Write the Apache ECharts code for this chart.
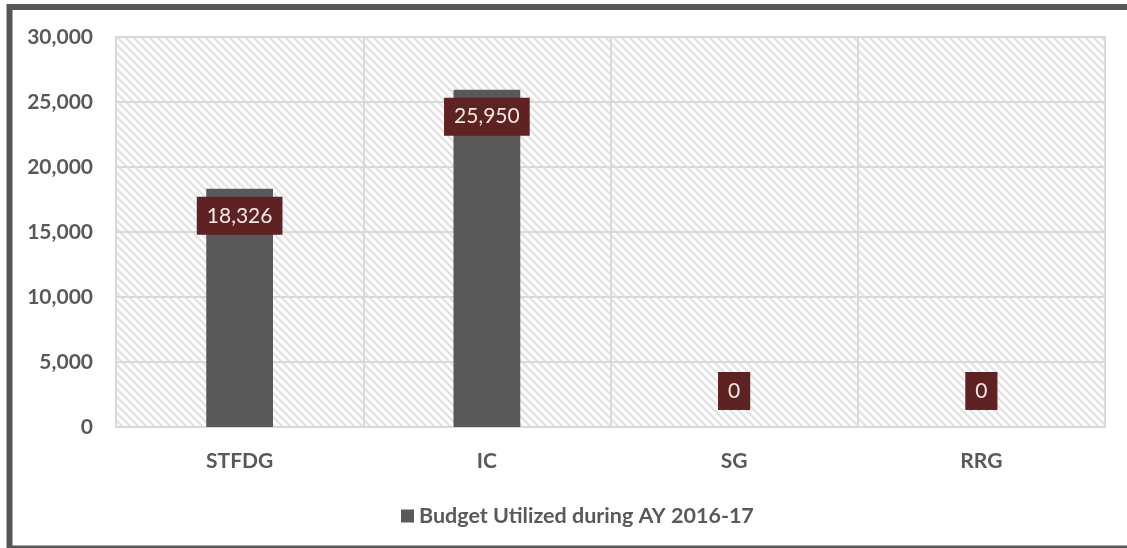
<!DOCTYPE html>
<html>
<head>
<meta charset="utf-8">
<script src="https://cdn.jsdelivr.net/npm/echarts@6/dist/echarts.min.js"></script>
<style>
  html, body { margin: 0; padding: 0; background: #fff; overflow: hidden; }
  #chart { width: 1127px; height: 548px; }
</style>
</head>
<body>
<div id="chart"></div>
<script>
const categories = ['STFDG', 'IC', 'SG', 'RRG'];
const budgetUtilized = [18326, 25950, 0, 0];
const seriesName = 'Budget Utilized during AY 2016-17';

// diagonal hatch for the plot background
function hatch() {
    const s = 8;
    const c = document.createElement('canvas');
    c.width = s; c.height = s;
    const ctx = c.getContext('2d');
    ctx.fillStyle = '#ffffff';
    ctx.fillRect(0, 0, s, s);
    ctx.strokeStyle = '#e3e3e3';
    ctx.lineWidth = 2.5;
    ctx.beginPath();
    ctx.moveTo(-1, -1); ctx.lineTo(s + 1, s + 1);
    ctx.moveTo(-1, s - 1); ctx.lineTo(1, s + 1);
    ctx.moveTo(s - 1, -1); ctx.lineTo(s + 1, 1);
    ctx.stroke();
    return c;
}

const labelBase = {
    show: true,
    color: '#f3ebe3',
    backgroundColor: '#5e2222',
    fontFamily: 'Lato',
    fontSize: 21,
    lineHeight: 20,
    padding: [9, 10],
    formatter: p => p.value.toLocaleString('en-US')
};

const chart = echarts.init(document.getElementById('chart'));
chart.setOption({
    animation: false,
    textStyle: { fontFamily: 'Lato' },
    graphic: [{
        type: 'rect',
        shape: { x: 9.5, y: 7, width: 1200, height: 541.5 },
        style: { fill: 'none', stroke: '#575757', lineWidth: 6 },
        z: 100
    }],
    grid: {
        left: 116, right: 22, top: 37, bottom: 121,
        show: true,
        backgroundColor: { image: hatch(), repeat: 'repeat' },
        borderColor: '#d9d9d9',
        borderWidth: 2
    },
    legend: {
        left: 396, top: 500,
        icon: 'rect',
        itemWidth: 13, itemHeight: 13,
        itemGap: 5,
        textStyle: { color: '#595959', fontWeight: 'bold', fontSize: 21.5, fontFamily: 'Lato' },
        data: [seriesName]
    },
    xAxis: {
        type: 'category',
        data: categories,
        axisLine: { show: false },
        axisTick: { show: false },
        splitLine: { show: true, lineStyle: { color: '#d9d9d9', width: 2 } },
        axisLabel: { color: '#595959', fontWeight: 'bold', fontSize: 21, margin: 24, fontFamily: 'Lato' }
    },
    yAxis: {
        type: 'value',
        min: 0, max: 30000, interval: 5000,
        axisLine: { show: false },
        axisTick: { show: false },
        splitLine: { lineStyle: { color: '#d9d9d9', width: 2 } },
        axisLabel: {
            color: '#595959', fontWeight: 'bold', fontSize: 21, margin: 23, fontFamily: 'Lato',
            formatter: v => v.toLocaleString('en-US')
        }
    },
    series: [{
        name: seriesName,
        type: 'bar',
        barWidth: '27%',
        itemStyle: { color: '#595959' },
        data: budgetUtilized.map(v => ({
            value: v,
            label: Object.assign({}, labelBase, v > 0
                ? { position: 'insideTop', distance: 8 }
                : { position: 'top', distance: 17 })
        }))
    }]
});
</script>
</body>
</html>
